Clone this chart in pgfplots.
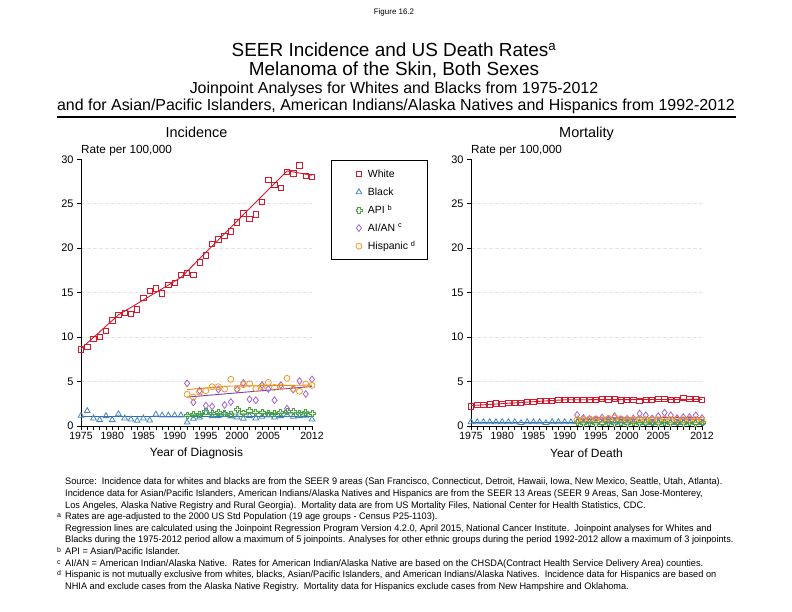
\documentclass[border=0pt]{standalone}
\usepackage{fontspec}
\setmainfont{Liberation Sans}
\usepackage{graphicx}
\usepackage{pgfplots}
\pgfplotsset{compat=1.18}

\definecolor{cWhite}{RGB}{210,25,45}
\definecolor{cBlack}{RGB}{70,135,195}
\definecolor{cBlackF}{RGB}{50,110,170}
\definecolor{cAPI}{RGB}{70,165,60}
\definecolor{cAPIF}{RGB}{40,150,120}
\definecolor{cAIAN}{RGB}{160,100,200}
\definecolor{cAIANF}{RGB}{125,60,180}
\definecolor{cHisp}{RGB}{245,150,40}
\definecolor{cHispF}{RGB}{240,135,0}
\definecolor{cGrid}{RGB}{228,228,228}

\pgfdeclareplotmark{ocross}{%
  \pgfpathmoveto{\pgfqpoint{-0.36\pgfplotmarksize}{\pgfplotmarksize}}%
  \pgfpathlineto{\pgfqpoint{0.36\pgfplotmarksize}{\pgfplotmarksize}}%
  \pgfpathlineto{\pgfqpoint{0.36\pgfplotmarksize}{0.36\pgfplotmarksize}}%
  \pgfpathlineto{\pgfqpoint{\pgfplotmarksize}{0.36\pgfplotmarksize}}%
  \pgfpathlineto{\pgfqpoint{\pgfplotmarksize}{-0.36\pgfplotmarksize}}%
  \pgfpathlineto{\pgfqpoint{0.36\pgfplotmarksize}{-0.36\pgfplotmarksize}}%
  \pgfpathlineto{\pgfqpoint{0.36\pgfplotmarksize}{-\pgfplotmarksize}}%
  \pgfpathlineto{\pgfqpoint{-0.36\pgfplotmarksize}{-\pgfplotmarksize}}%
  \pgfpathlineto{\pgfqpoint{-0.36\pgfplotmarksize}{-0.36\pgfplotmarksize}}%
  \pgfpathlineto{\pgfqpoint{-\pgfplotmarksize}{-0.36\pgfplotmarksize}}%
  \pgfpathlineto{\pgfqpoint{-\pgfplotmarksize}{0.36\pgfplotmarksize}}%
  \pgfpathlineto{\pgfqpoint{-0.36\pgfplotmarksize}{0.36\pgfplotmarksize}}%
  \pgfpathclose
  \pgfusepathqstroke
}

\newcommand{\fn}[1]{\scalebox{0.97}[1]{#1}}

\pgfplotsset{
  base/.style={
    scale only axis, width=231bp, height=266.7bp, anchor=south west,
    xmin=1975, xmax=2012, ymin=0, ymax=30,
    axis x line*=bottom, axis y line*=left,
    axis line style={line width=1bp, black, -},
    xtick={1975,1980,1985,1990,1995,2000,2005,2012},
    minor xtick={1975,1976,...,2012},
    ytick={5,10,...,25},
    extra y ticks={0,30},
    extra y tick style={grid=none},
    tick align=outside, major tick length=4bp, minor tick length=4bp,
    tick style={black, line width=0.8bp},
    ymajorgrids,
    grid style={cGrid, dash pattern=on 4bp off 2bp, line width=0.6bp},
    /pgf/number format/assume math mode=true,
    /pgf/number format/1000 sep={},
    xticklabel style={font=\fontsize{10.5}{12}\selectfont, yshift=1bp},
    yticklabel style={font=\fontsize{11}{12}\selectfont},
    clip=false,
  },
  mW/.style={only marks, mark=square, mark size=2.7bp, color=cWhite, mark options={line width=0.8bp}},
  mB/.style={only marks, mark=triangle, mark size=3.3bp, color=cBlack, mark options={line width=0.8bp}},
  mA/.style={only marks, mark=ocross, mark size=3bp, color=cAPI, mark options={line width=0.8bp}},
  mI/.style={only marks, mark=diamond, mark size=3.4bp, color=cAIAN, mark options={line width=0.8bp}},
  mH/.style={only marks, mark=o, mark size=3bp, color=cHisp, mark options={line width=0.8bp}},
  fit/.style={no marks, line width=0.9bp, forget plot},
}

\begin{document}
\begin{tikzpicture}
\useasboundingbox (0,0) rectangle (792bp,-612bp);

% Titles
\node[font=\fontsize{8}{9}\selectfont] at (394bp,-12bp) {Figure 16.2};
\node[font=\fontsize{19}{22}\selectfont] at (394bp,-50bp) {SEER Incidence and US Death Rates\textsuperscript{a}};
\node[font=\fontsize{19}{22}\selectfont] at (394bp,-70bp) {Melanoma of the Skin, Both Sexes};
\node[font=\fontsize{16}{18}\selectfont] at (394bp,-89bp) {Joinpoint Analyses for Whites and Blacks from 1975-2012};
\node[font=\fontsize{16}{18}\selectfont] at (396bp,-106bp) {and for Asian/Pacific Islanders, American Indians/Alaska Natives and Hispanics from 1992-2012};
\draw[line width=1.2bp] (57bp,-117bp) -- (736bp,-117bp);

\node[font=\fontsize{14.5}{17}\selectfont, anchor=base] at (196.5bp,-137bp) {Incidence};
\node[font=\fontsize{14.5}{17}\selectfont, anchor=base] at (586.5bp,-137bp) {Mortality};
\node[font=\fontsize{11.8}{13}\selectfont, anchor=west, inner sep=0pt] at (81bp,-151bp) {Rate per 100,000};
\node[font=\fontsize{11.8}{13}\selectfont, anchor=west, inner sep=0pt] at (471bp,-151bp) {Rate per 100,000};
\node[font=\fontsize{12}{15}\selectfont] at (196.5bp,-453bp) {Year of Diagnosis};
\node[font=\fontsize{12}{15}\selectfont] at (586.5bp,-453bp) {Year of Death};

% Incidence
\begin{axis}[base, at={(81bp,-426bp)},
  legend style={at={(axis description cs:1.082,0.997)}, anchor=north west,
    draw=black, line width=1bp, inner xsep=0pt, inner ysep=4.5bp,
    font=\fontsize{10.5}{12}\selectfont,
    nodes={inner sep=0pt, minimum height=18bp}, column sep=6bp},
  legend cell align=left,
  legend image code/.code={\node[draw=none, fill=none, inner sep=0pt, minimum width=27bp, minimum height=1bp, anchor=east] at (0,0) {}; \draw[#1] plot coordinates {(0,0)};},
]
\addplot[mW] coordinates {(1975,8.6)(1976,8.9)(1977,9.8)(1978,10.05)(1979,10.7)(1980,11.9)(1981,12.5)(1982,12.7)(1983,12.6)(1984,13.1)(1985,14.4)(1986,15.2)(1987,15.5)(1988,14.9)(1989,15.9)(1990,16.1)(1991,17.0)(1992,17.25)(1993,17.0)(1994,18.4)(1995,19.2)(1996,20.5)(1997,21.0)(1998,21.4)(1999,21.9)(2000,22.9)(2001,23.9)(2002,23.3)(2003,23.8)(2004,25.2)(2005,27.7)(2006,27.1)(2007,26.8)(2008,28.6)(2009,28.4)(2010,29.3)(2011,28.1)(2012,28.05)};
\addlegendentry{White}
\addplot[mB] coordinates {(1975,1.17)(1976,1.7)(1977,0.87)(1978,0.68)(1979,1.13)(1980,0.68)(1981,1.35)(1982,0.87)(1983,0.75)(1984,0.6)(1985,0.87)(1986,0.64)(1987,1.3)(1988,1.2)(1989,1.2)(1990,1.2)(1991,1.2)(1992,0.4)(1993,0.83)(1994,0.98)(1995,1.5)(1996,1.13)(1997,1.13)(1998,1.3)(1999,1.09)(2000,0.98)(2001,0.83)(2002,1.13)(2003,0.87)(2004,1.05)(2005,1.2)(2006,0.98)(2007,1.13)(2008,1.28)(2009,1.05)(2010,1.13)(2011,1.17)(2012,0.75)};
\addlegendentry{Black}
\addplot[mA] coordinates {(1992,1.2)(1993,1.35)(1994,1.28)(1995,1.6)(1996,1.4)(1997,1.55)(1998,1.43)(1999,1.3)(2000,1.9)(2001,1.47)(2002,1.7)(2003,1.55)(2004,1.5)(2005,1.43)(2006,1.4)(2007,1.5)(2008,1.6)(2009,1.6)(2010,1.43)(2011,1.55)(2012,1.43)};
\addlegendentry{API \textsuperscript{b}}
\addplot[mI] coordinates {(1992,4.8)(1993,2.66)(1994,3.97)(1995,2.3)(1996,2.2)(1997,4.1)(1998,2.36)(1999,2.7)(2000,4.1)(2001,4.84)(2002,3.0)(2003,2.9)(2004,4.6)(2005,4.16)(2006,2.9)(2007,4.6)(2008,1.95)(2009,4.1)(2010,5.06)(2011,3.6)(2012,5.25)};
\addlegendentry{AI/AN \textsuperscript{c}}
\addplot[mH] coordinates {(1992,3.56)(1993,3.26)(1994,3.8)(1995,3.97)(1996,4.42)(1997,4.42)(1998,4.16)(1999,5.25)(2000,4.2)(2001,4.65)(2002,4.76)(2003,4.2)(2004,4.42)(2005,4.9)(2006,4.35)(2007,4.4)(2008,5.36)(2009,4.16)(2010,3.9)(2011,4.72)(2012,4.57)};
\addlegendentry{Hispanic \textsuperscript{d}\hspace*{12bp}}
\addplot[fit, color=cWhite] coordinates {(1975,8.7)(1981,12.5)(1991,16.7)(2008,28.7)(2012,28.2)};
\addplot[fit, color=cBlackF] coordinates {(1975,1.05)(2012,1.05)};
\addplot[fit, color=cAPI] coordinates {(1992,1.25)(2012,1.5)};
\addplot[fit, color=cAIANF] coordinates {(1992,3.25)(2012,4.45)};
\addplot[fit, color=cHispF] coordinates {(1992,4.1)(1999,4.5)(2012,4.6)};
\end{axis}

% Mortality
\begin{axis}[base, at={(471bp,-426bp)}]
\addplot[mW] coordinates {(1975,2.2)(1976,2.35)(1977,2.35)(1978,2.45)(1979,2.55)(1980,2.5)(1981,2.6)(1982,2.6)(1983,2.6)(1984,2.7)(1985,2.7)(1986,2.85)(1987,2.85)(1988,2.85)(1989,2.95)(1990,2.95)(1991,2.95)(1992,2.95)(1993,2.95)(1994,2.95)(1995,2.95)(1996,3.05)(1997,3.0)(1998,3.05)(1999,2.9)(2000,2.95)(2001,2.95)(2002,2.85)(2003,2.95)(2004,2.95)(2005,3.05)(2006,3.05)(2007,2.95)(2008,2.95)(2009,3.15)(2010,3.05)(2011,3.05)(2012,2.95)};
\addplot[mB] coordinates {(1975,0.45)(1976,0.45)(1977,0.45)(1978,0.45)(1979,0.45)(1980,0.45)(1981,0.45)(1982,0.45)(1983,0.35)(1984,0.45)(1985,0.45)(1986,0.45)(1987,0.35)(1988,0.45)(1989,0.45)(1990,0.45)(1991,0.45)(1992,0.45)(1993,0.4)(1994,0.45)(1995,0.4)(1996,0.35)(1997,0.4)(1998,0.45)(1999,0.4)(2000,0.4)(2001,0.45)(2002,0.4)(2003,0.4)(2004,0.35)(2005,0.4)(2006,0.4)(2007,0.4)(2008,0.35)(2009,0.4)(2010,0.4)(2011,0.35)(2012,0.35)};
\addplot[mA] coordinates {(1992,0.4)(1993,0.3)(1994,0.4)(1995,0.3)(1996,0.35)(1997,0.4)(1998,0.3)(1999,0.4)(2000,0.3)(2001,0.4)(2002,0.3)(2003,0.35)(2004,0.4)(2005,0.3)(2006,0.4)(2007,0.3)(2008,0.4)(2009,0.3)(2010,0.4)(2011,0.3)(2012,0.4)};
\addplot[mI] coordinates {(1992,1.25)(1993,0.9)(1994,0.8)(1995,0.75)(1996,0.95)(1997,0.75)(1998,1.1)(1999,0.75)(2000,0.8)(2001,0.85)(2002,1.4)(2003,1.2)(2004,0.85)(2005,1.1)(2006,1.5)(2007,1.2)(2008,0.9)(2009,1.0)(2010,1.0)(2011,1.2)(2012,0.9)};
\addplot[mH] coordinates {(1992,0.7)(1993,0.75)(1994,0.8)(1995,0.8)(1996,0.7)(1997,0.85)(1998,0.9)(1999,0.8)(2000,0.75)(2001,0.7)(2002,0.8)(2003,0.7)(2004,0.75)(2005,0.7)(2006,0.8)(2007,0.7)(2008,0.75)(2009,0.7)(2010,0.75)(2011,0.7)(2012,0.7)};
\addplot[fit, color=cWhite] coordinates {(1975,2.3)(1990,2.95)(2012,3.0)};
\addplot[fit, color=cBlackF] coordinates {(1975,0.42)(2012,0.42)};
\addplot[fit, color=cAPIF] coordinates {(1992,0.35)(2012,0.35)};
\addplot[fit, color=cAIANF] coordinates {(1992,0.9)(2012,0.95)};
\addplot[fit, color=cHispF] coordinates {(1992,0.78)(2012,0.75)};
\end{axis}

% Footnotes
\begin{scope}[every node/.style={anchor=base west, inner sep=0pt, font=\fontsize{9.5}{11}\selectfont}]
\node at (65bp,-484bp) {\fn{Source:\ \ Incidence data for whites and blacks are from the SEER 9 areas (San Francisco, Connecticut, Detroit, Hawaii, Iowa, New Mexico, Seattle, Utah, Atlanta).}};
\node at (65bp,-496bp) {\fn{Incidence data for Asian/Pacific Islanders, American Indians/Alaska Natives and Hispanics are from the SEER 13 Areas (SEER 9 Areas, San Jose-Monterey,}};
\node at (65bp,-508bp) {\fn{Los Angeles, Alaska Native Registry and Rural Georgia).\ \ Mortality data are from US Mortality Files, National Center for Health Statistics, CDC.}};
\node at (65bp,-519bp) {\fn{Rates are age-adjusted to the 2000 US Std Population (19 age groups - Census P25-1103).}};
\node at (65bp,-531bp) {\fn{Regression lines are calculated using the Joinpoint Regression Program Version 4.2.0, April 2015, National Cancer Institute.\ \ Joinpoint analyses for Whites and}};
\node at (65bp,-542bp) {\fn{Blacks during the 1975-2012 period allow a maximum of 5 joinpoints. Analyses for other ethnic groups during the period 1992-2012 allow a maximum of 3 joinpoints.}};
\node at (65bp,-554bp) {\fn{API = Asian/Pacific Islander.}};
\node at (65bp,-566bp) {\fn{AI/AN = American Indian/Alaska Native.\ \ Rates for American Indian/Alaska Native are based on the CHSDA(Contract Health Service Delivery Area) counties.}};
\node at (65bp,-577bp) {\fn{Hispanic is not mutually exclusive from whites, blacks, Asian/Pacific Islanders, and American Indians/Alaska Natives.\ \ Incidence data for Hispanics are based on}};
\node at (65bp,-589bp) {\fn{NHIA and exclude cases from the Alaska Native Registry.\ \ Mortality data for Hispanics exclude cases from New Hampshire and Oklahoma.}};
\end{scope}
\begin{scope}[every node/.style={anchor=base west, inner sep=0pt, font=\fontsize{7}{8}\selectfont}]
\node at (57bp,-517bp) {a};
\node at (57bp,-552bp) {b};
\node at (57bp,-564bp) {c};
\node at (57bp,-575bp) {d};
\end{scope}
\end{tikzpicture}
\end{document}
